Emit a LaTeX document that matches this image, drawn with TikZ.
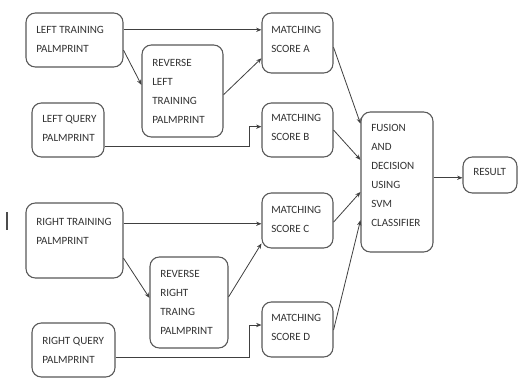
\documentclass[tikz,border=0pt]{standalone}
\usepackage{fontspec}
\setmainfont{Carlito}
\usetikzlibrary{fit,calc,arrows.meta}
\begin{document}
\begin{tikzpicture}[x=0.75pt,y=-0.75pt,
 box/.style={draw=black!65, line width=0.8pt, rounded corners=7pt, inner sep=0pt},
 txt/.style={font=\fontsize{8.3}{14.25}\selectfont, align=left, inner sep=0pt, anchor=north west, text=black!80},
 arr/.style={draw=black!75, line width=0.6pt, -{Stealth[length=4pt,width=3.2pt]}}]
\useasboundingbox (0,0) rectangle (519,379);
\fill[white] (0,0) rectangle (519,379);
% boxes
\node[box, fit={(26,13) (123,67)}] (lt) {};
\node[box, fit={(142,45) (223,137)}] (revl) {};
\node[box, fit={(32,103) (104,157)}] (lq) {};
\node[box, fit={(262,13) (333,73)}] (msa) {};
\node[box, fit={(262,103) (333,157)}] (msb) {};
\node[box, fit={(361,112) (433,252)}] (fus) {};
\node[box, fit={(463,157) (517,193)}] (res) {};
\node[box, fit={(262,193) (333,248)}] (msc) {};
\node[box, fit={(262,302) (333,357)}] (msd) {};
\node[box, fit={(26,203) (123,278)}] (rt) {};
\node[box, fit={(150,257) (228,348)}] (revr) {};
\node[box, fit={(32,323) (115,377)}] (rq) {};
% texts
\node[txt] (ltt) at (36,26.5) {LEFT TRAINING\\PALMPRINT};
\node[txt] (revlt) at (152,59.5) {REVERSE\\LEFT\\TRAINING\\PALMPRINT};
\node[txt] (lqt) at (42,115.5) {LEFT QUERY\\PALMPRINT};
\node[txt] (msat) at (271,26.5) {MATCHING\\SCORE A};
\node[txt] (msbt) at (271,114.5) {MATCHING\\SCORE B};
\node[txt] (fust) at (371,124.5) {FUSION\\AND\\DECISION\\USING\\SVM\\CLASSIFIER};
\node[txt] (rest) at (473,168.5) {RESULT};
\node[txt] (msct) at (271,206.5) {MATCHING\\SCORE C};
\node[txt] (msdt) at (271,314.5) {MATCHING\\SCORE D};
\node[txt] (rtt) at (36,218.5) {RIGHT TRAINING\\PALMPRINT};
\node[txt] (revrt) at (160,270.5) {REVERSE\\RIGHT\\TRAING\\PALMPRINT};
\node[txt] (rqt) at (42,337.5) {RIGHT QUERY\\PALMPRINT};
% stray mark
\draw[black!70, line width=0.8pt] (7,212) -- (7,230);
% connectors
\draw[arr] ($(lt.north east)!0.315!(lt.south east)$) coordinate (p1) -- (p1 -| msa.west);
\draw[arr] ($(lt.north east)!0.685!(lt.south east)$) -- ($(revl.north west)!0.435!(revl.south west)$);
\draw[arr] ($(revl.north east)!0.54!(revl.south east)$) -- ($(msa.north west)!0.75!(msa.south west)$);
\draw[arr] ($(lq.north east)!0.8!(lq.south east)$) -| ($(msb.north west)!0.44!(msb.south west)+(-12,0)$) -- ($(msb.north west)!0.44!(msb.south west)$);
\draw[arr] ($(msa.north east)!0.57!(msa.south east)$) -- ($(fus.north west)!0.086!(fus.south west)$);
\draw[arr] ($(msb.north east)!0.5!(msb.south east)$) -- ($(fus.north west)!0.343!(fus.south west)$);
\draw[arr] ($(fus.north east)!0.47!(fus.south east)$) coordinate (p7) -- (p7 -| res.west);
\draw[arr] ($(msc.north east)!0.53!(msc.south east)$) -- ($(fus.north west)!0.571!(fus.south west)$);
\draw[arr] ($(msd.north east)!0.51!(msd.south east)$) -- ($(fus.north west)!0.771!(fus.south west)$);
\draw[arr] ($(rt.north east)!0.28!(rt.south east)$) coordinate (p10) -- (p10 -| msc.west);
\draw[arr] ($(rt.north east)!0.733!(rt.south east)$) -- ($(revr.north west)!0.45!(revr.south west)$);
\draw[arr] ($(revr.north east)!0.44!(revr.south east)$) -- ($(msc.north west)!0.91!(msc.south west)$);
\draw[arr] ($(rq.north east)!0.63!(rq.south east)$) -| ($(msd.north west)!0.42!(msd.south west)+(-12,0)$) -- ($(msd.north west)!0.42!(msd.south west)$);
\end{tikzpicture}
\end{document}
